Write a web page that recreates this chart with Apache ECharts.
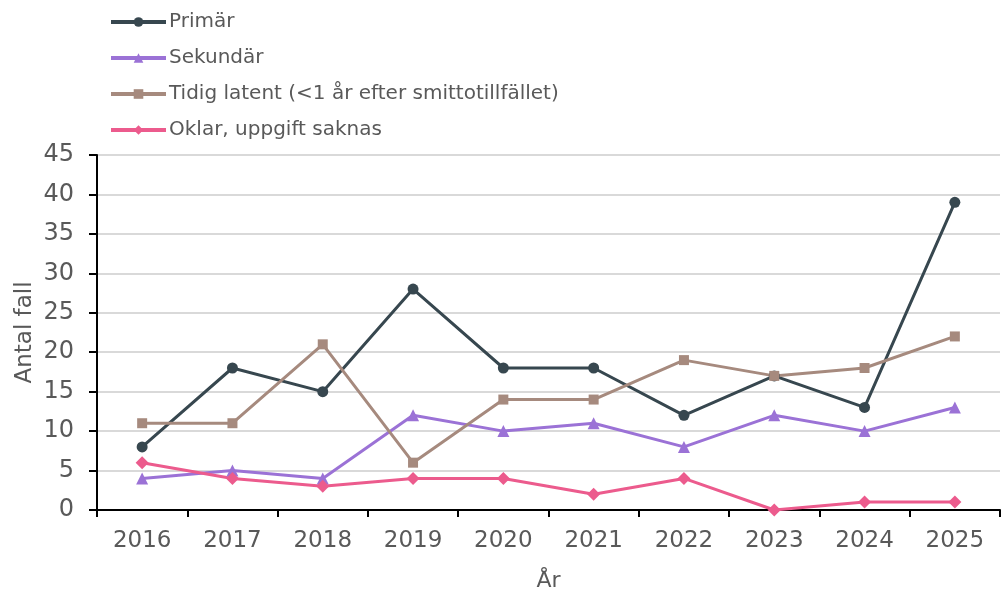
<!DOCTYPE html>
<html lang="sv">
<head>
    <meta charset="UTF-8">
    <title>Antal fall per år</title>
    <script src="https://cdn.jsdelivr.net/npm/echarts@6/dist/echarts.min.js"></script>
    <style>
        body { margin: 0; background: #fff; }
        #chart { width: 1001px; height: 590px; }
    </style>
</head>
<body>
    <div id="chart"></div>
    <script>
        const years = ['2016', '2017', '2018', '2019', '2020', '2021', '2022', '2023', '2024', '2025'];
        const primar = [8, 18, 15, 28, 18, 18, 12, 17, 13, 39];
        const sekundar = [4, 5, 4, 12, 10, 11, 8, 12, 10, 13];
        const tidigLatent = [11, 11, 21, 6, 14, 14, 19, 17, 18, 22];
        const oklar = [6, 4, 3, 4, 4, 2, 4, 0, 1, 1];

        const textColor = '#595959';
        const font = 'DejaVu Sans, Verdana, sans-serif';

        function line(name, data, color, symbol, size) {
            return {
                name: name,
                type: 'line',
                data: data,
                symbol: symbol,
                symbolSize: size,
                itemStyle: { color: color },
                lineStyle: { color: color, width: 3 }
            };
        }

        const chart = echarts.init(document.getElementById('chart'));
        chart.setOption({
            animation: false,
            textStyle: { fontFamily: font },
            legend: {
                orient: 'vertical',
                left: 109,
                top: 11,
                padding: 0,
                itemWidth: 55,
                itemHeight: 12,
                itemGap: 14,
                lineStyle: { width: 4 },
                textStyle: { fontSize: 20, lineHeight: 22, color: textColor, fontFamily: font, padding: [0, 0, 0, -2] },
                data: ['Primär', 'Sekundär', 'Tidig latent (<1 år efter smittotillfället)', 'Oklar, uppgift saknas']
            },
            grid: { left: 97, right: 1, top: 155, bottom: 80, outerBoundsMode: 'none' },
            xAxis: {
                type: 'category',
                data: years,
                name: 'År',
                nameLocation: 'middle',
                nameGap: 60,
                nameTextStyle: { fontSize: 22, color: textColor },
                axisLine: { lineStyle: { color: '#000', width: 2 } },
                axisTick: { show: true, length: 7, lineStyle: { color: '#000', width: 2 } },
                axisLabel: { fontSize: 23, color: textColor, margin: 20 }
            },
            yAxis: {
                type: 'value',
                min: 0,
                max: 45,
                interval: 5,
                name: 'Antal fall',
                nameLocation: 'middle',
                nameGap: 60,
                nameMoveOverlap: false,
                nameTextStyle: { fontSize: 23, color: textColor },
                axisLine: { show: true, lineStyle: { color: '#000', width: 2 } },
                axisTick: { show: true, length: 8, lineStyle: { color: '#000', width: 2 } },
                axisLabel: { fontSize: 24, color: textColor, margin: 23 },
                splitLine: { lineStyle: { color: '#d9d9d9', width: 2 } }
            },
            series: [
                line('Primär', primar, '#37474f', 'circle', 11),
                line('Sekundär', sekundar, '#9b72d6', 'triangle', 12),
                line('Tidig latent (<1 år efter smittotillfället)', tidigLatent, '#a68a7e', 'rect', 10),
                line('Oklar, uppgift saknas', oklar, '#ec5b8d', 'diamond', 13)
            ]
        });
    </script>
</body>
</html>
